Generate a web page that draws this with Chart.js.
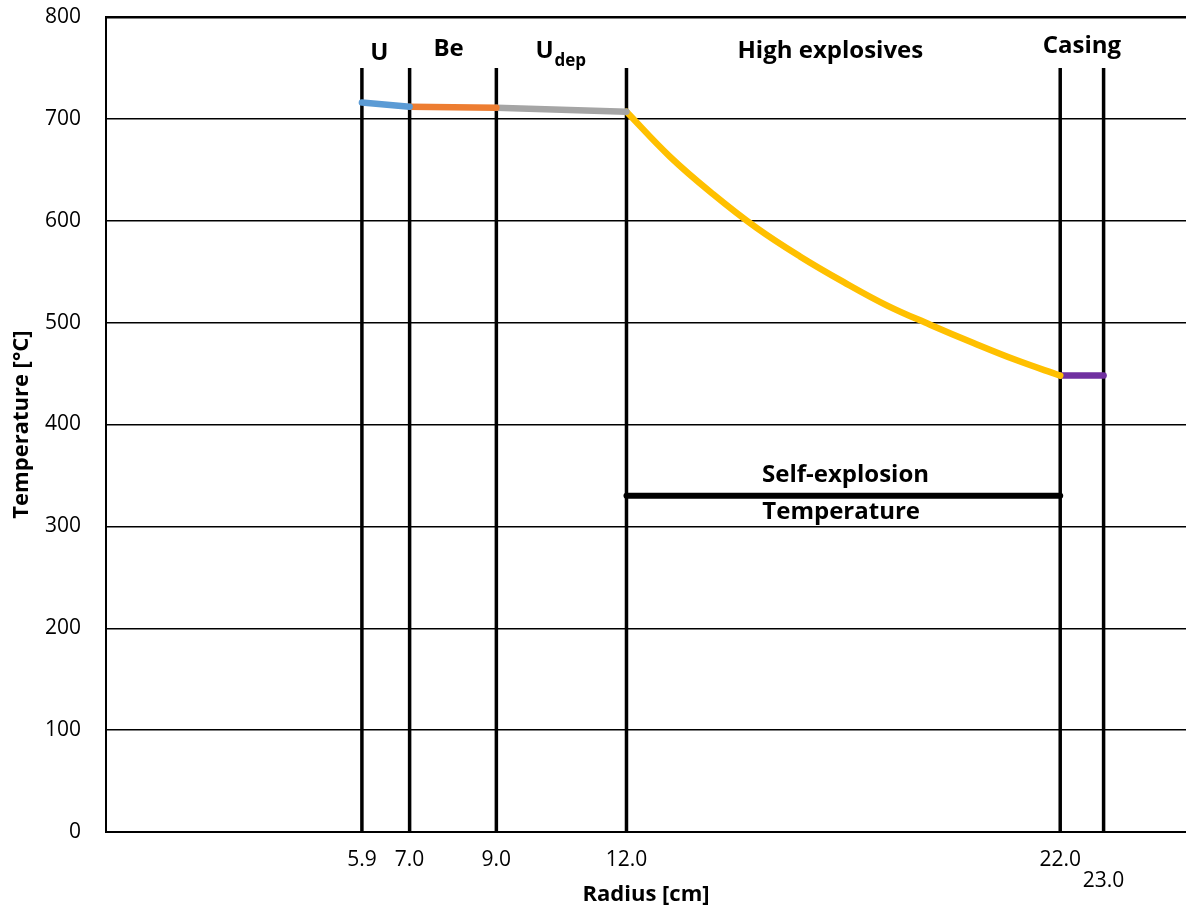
<!DOCTYPE html>
<html>
<head>
<meta charset="utf-8">
<script src="https://cdn.jsdelivr.net/npm/chart.js"></script>
<style>
  body { margin: 0; background: #fff; }
  #wrap { width: 1186px; height: 911px; }
</style>
</head>
<body>
<div id="wrap"><canvas id="chart" width="1186" height="911"></canvas></div>
<script>
// radius [cm] / temperature [°C] per layer
const uR = [5.9, 7.0];
const uT = [716, 712];
const beR = [7.0, 9.0];
const beT = [712, 711];
const udepR = [9.0, 12.0];
const udepT = [711, 707];
const heR = [12, 13, 14, 15, 16, 17, 18, 19, 20, 21, 22];
const heT = [707, 663, 626, 593, 565, 540, 517, 498, 480, 463, 448];
const casingR = [22.0, 23.0];
const casingT = [448, 448];
const selfR = [12.0, 22.0];
const selfT = [330, 330];

// layer boundaries (vertical lines) and x tick labels
const boundaries = [5.9, 7.0, 9.0, 12.0, 22.0, 23.0];
const boundaryTop = 750;
const xTickLabels = ["5.9", "7.0", "9.0", "12.0", "22.0", "23.0"];
const yTicks = [0, 100, 200, 300, 400, 500, 600, 700, 800];

const FONT = "'Open Sans', 'DejaVu Sans', sans-serif";

function pts(xs, ys) {
  return xs.map((x, i) => ({ x: x, y: ys[i] }));
}

function lineSet(label, xs, ys, color, width) {
  return {
    label: label,
    data: pts(xs, ys),
    borderColor: color,
    backgroundColor: color,
    borderWidth: width,
    borderCapStyle: "round",
    borderJoinStyle: "round",
    pointRadius: 0,
    fill: false,
    tension: 0,
  };
}

const datasets = [
  lineSet("U", uR, uT, "#5B9BD5", 6.5),
  lineSet("Be", beR, beT, "#ED7D31", 6.5),
  lineSet("Udep", udepR, udepT, "#A5A5A5", 6.5),
  Object.assign(lineSet("HE", heR, heT, "#FFC000", 6.5), { tension: 0.4 }),
  lineSet("Casing", casingR, casingT, "#7030A0", 6.5),
  lineSet("Self", selfR, selfT, "#000000", 6),
];
boundaries.forEach((b) => {
  const d = lineSet("b" + b, [b, b], [0, boundaryTop], "#000000", 3.5);
  d.borderCapStyle = "butt";
  datasets.push(d);
});

// text labels, placed in data units
const notes = [
  { text: "U", x: 6.3, y: 765 },
  { text: "Be", x: 7.9, y: 768 },
  { text: "High explosives", x: 16.7, y: 766 },
  { text: "Casing", x: 22.5, y: 771 },
  { text: "Self-explosion", x: 17.05, y: 350 },
  { text: "Temperature", x: 16.95, y: 314 },
];

const notesPlugin = {
  id: "notes",
  afterDatasetsDraw(chart) {
    const { ctx, scales } = chart;
    const xs = scales.x, ys = scales.y;
    ctx.save();
    ctx.fillStyle = "#000";
    ctx.font = "bold 24px " + FONT;
    ctx.textAlign = "center";
    ctx.textBaseline = "middle";
    notes.forEach((n) => {
      ctx.fillText(n.text, xs.getPixelForValue(n.x), ys.getPixelForValue(n.y));
    });
    // U with subscript "dep"
    const ux = xs.getPixelForValue(9.9);
    const uy = ys.getPixelForValue(766);
    ctx.textAlign = "left";
    ctx.fillText("U", ux, uy);
    const w = ctx.measureText("U").width;
    ctx.font = "bold 17px " + FONT;
    ctx.fillText("dep", ux + w + 1, uy + 10);
    ctx.restore();
  },
};

new Chart(document.getElementById("chart"), {
  type: "line",
  data: { datasets: datasets },
  plugins: [notesPlugin],
  options: {
    responsive: false,
    animation: false,
    layout: { padding: { top: 17, right: 0, left: 0, bottom: 0 } },
    plugins: { legend: { display: false }, tooltip: { enabled: false } },
    scales: {
      x: {
        type: "linear",
        min: 0,
        max: 24.9,
        afterBuildTicks: (scale) => {
          scale.ticks = boundaries.map((v) => ({ value: v }));
        },
        afterFit: (scale) => {
          scale.height = 79;
          scale.paddingLeft = 0;
          scale.paddingRight = 0;
        },
        ticks: {
          autoSkip: false,
          maxRotation: 0,
          padding: 10,
          color: "#000",
          font: { family: FONT, size: 21, lineHeight: 1.0 },
          callback: (v, i) => (i === boundaries.length - 1 ? ["", xTickLabels[i]] : xTickLabels[i]),
        },
        grid: { display: false },
        border: { display: true, color: "#000", width: 2 },
        title: {
          display: true,
          text: "Radius [cm]",
          color: "#000",
          font: { family: FONT, size: 22, weight: "bold" },
          padding: { top: 0, bottom: 3 },
        },
      },
      y: {
        min: 0,
        max: 800,
        afterBuildTicks: (scale) => {
          scale.ticks = yTicks.map((v) => ({ value: v }));
        },
        afterFit: (scale) => {
          scale.width = 106;
          scale.paddingTop = 0;
          scale.paddingBottom = 0;
        },
        ticks: {
          padding: 25,
          color: "#000",
          font: { family: FONT, size: 21 },
        },
        grid: {
          color: "#000",
          lineWidth: (c) => (c.tick && c.tick.value === 800 ? 2.5 : 1.5),
          drawTicks: false,
        },
        border: { display: true, color: "#000", width: 2 },
        title: {
          display: true,
          text: "Temperature [°C]",
          color: "#000",
          font: { family: FONT, size: 22, weight: "bold" },
          padding: { top: 9, bottom: 0 },
        },
      },
    },
  },
});
</script>
</body>
</html>
